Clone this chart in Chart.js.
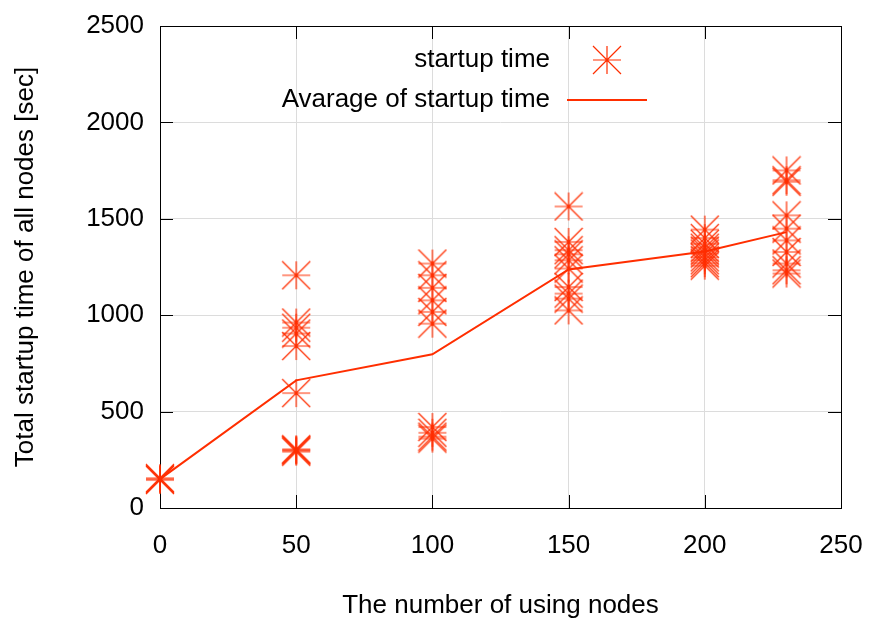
<!DOCTYPE html>
<html>
<head>
<meta charset="utf-8">
<script src="https://cdn.jsdelivr.net/npm/chart.js@4"></script>
<style>
  html, body { margin: 0; padding: 0; background: #fff; }
  #wrap { width: 870px; height: 625px; }
</style>
</head>
<body>
<div id="wrap"><canvas id="startupChart"></canvas></div>
<script>
const nodes0 = [0, 0, 0];
const times0 = [145, 150, 155];
const nodes50 = [50, 50, 50, 50, 50, 50, 50, 50, 50, 50];
const times50 = [1207, 962, 935, 905, 840, 596, 305, 300, 298, 292];
const nodes100 = [100, 100, 100, 100, 100, 100, 100, 100, 100, 100];
const times100 = [1268, 1207, 1142, 1077, 1017, 956, 420, 390, 370, 360];
const nodes150 = [150, 150, 150, 150, 150, 150, 150, 150, 150, 150];
const times150 = [1564, 1380, 1337, 1316, 1285, 1242, 1146, 1112, 1086, 1025];
const nodes200 = [200, 200, 200, 200, 200, 200, 200, 200, 200, 200];
const times200 = [1444, 1400, 1370, 1350, 1335, 1320, 1300, 1285, 1270, 1257];
const nodes230 = [230, 230, 230, 230, 230, 230, 230, 230, 230, 230];
const times230 = [1751, 1700, 1692, 1518, 1449, 1388, 1328, 1268, 1233, 1216];

// average line
const avgNodes = [0, 50, 100, 150, 200, 230];
const avgTimes = [150, 662, 797, 1237, 1330, 1431];

const xTicks = [0, 50, 100, 150, 200, 250];
const yTicks = [0, 500, 1000, 1500, 2000, 2500];

const red = "#ff2e00";
const font = "'Liberation Sans', Arial, Helvetica, sans-serif";

// gnuplot-like star: plus + x reaching the square corners
function makeStar(r) {
    const c = document.createElement("canvas");
    const s = 2 * r + 2;
    c.width = s; c.height = s;
    const g = c.getContext("2d");
    const m = s / 2;
    g.strokeStyle = red;
    g.lineWidth = 1.2;
    g.beginPath();
    g.moveTo(m - r, m); g.lineTo(m + r, m);
    g.moveTo(m, m - r); g.lineTo(m, m + r);
    g.moveTo(m - r, m - r); g.lineTo(m + r, m + r);
    g.moveTo(m - r, m + r); g.lineTo(m + r, m - r);
    g.stroke();
    return c;
}
const star = makeStar(14);

function pairs(xs, ys) {
    return xs.map((x, i) => ({ x: x, y: ys[i] }));
}
const points = [].concat(
    pairs(nodes0, times0), pairs(nodes50, times50), pairs(nodes100, times100),
    pairs(nodes150, times150), pairs(nodes200, times200), pairs(nodes230, times230)
);

// border + inward ticks on all four sides
const framePlugin = {
    id: "frame",
    beforeDatasetsDraw(chart) {
        const { ctx, chartArea: a, scales } = chart;
        ctx.save();
        ctx.strokeStyle = "#000";
        ctx.lineWidth = 1;
        const tl = 13;
        ctx.beginPath();
        xTicks.forEach(v => {
            const px = Math.round(scales.x.getPixelForValue(v)) + 0.5;
            ctx.moveTo(px, a.bottom); ctx.lineTo(px, a.bottom - tl);
            ctx.moveTo(px, a.top); ctx.lineTo(px, a.top + tl);
        });
        yTicks.forEach(v => {
            const py = Math.round(scales.y.getPixelForValue(v)) + 0.5;
            ctx.moveTo(a.left, py); ctx.lineTo(a.left + tl, py);
            ctx.moveTo(a.right, py); ctx.lineTo(a.right - tl, py);
        });
        ctx.stroke();
        ctx.strokeRect(Math.round(a.left) + 0.5, Math.round(a.top) + 0.5,
            Math.round(a.right - a.left), Math.round(a.bottom - a.top));
        ctx.restore();
    },
    afterDraw(chart) {
        // key inside the plot, text right-aligned left of the symbol
        const { ctx } = chart;
        const ds = chart.data.datasets;
        ctx.save();
        ctx.font = "26px " + font;
        ctx.fillStyle = "#000";
        ctx.textAlign = "right";
        ctx.textBaseline = "middle";
        ctx.fillText(ds[0].label, 550, 60);
        ctx.drawImage(star, 607 - star.width / 2, 60 - star.height / 2);
        ctx.fillText(ds[1].label, 550, 100);
        ctx.strokeStyle = red;
        ctx.lineWidth = 2;
        ctx.beginPath();
        ctx.moveTo(567, 100); ctx.lineTo(647, 100);
        ctx.stroke();
        ctx.restore();
    }
};

const ctx = document.getElementById("startupChart").getContext("2d");
new Chart(ctx, {
    type: "scatter",
    data: {
        datasets: [
            {
                label: "startup time",
                data: points,
                pointStyle: star,
                showLine: false,
                clip: false
            },
            {
                label: "Avarage of startup time",
                data: pairs(avgNodes, avgTimes),
                showLine: true,
                borderColor: red,
                borderWidth: 2,
                pointRadius: 0,
                pointHoverRadius: 0,
                fill: false,
                clip: false
            }
        ]
    },
    plugins: [framePlugin],
    options: {
        responsive: true,
        maintainAspectRatio: false,
        animation: false,
        events: [],
        layout: { autoPadding: false, padding: { left: 0, top: 26, right: 29, bottom: 0 } },
        plugins: {
            legend: { display: false },
            tooltip: { enabled: false }
        },
        scales: {
            x: {
                type: "linear",
                min: 0,
                max: 250,
                afterBuildTicks: s => { s.ticks = xTicks.map(v => ({ value: v })); },
                afterFit: s => { s.height = 117; s.paddingLeft = 0; s.paddingRight = 0; },
                grid: { color: "#dcdcdc", lineWidth: 1, drawTicks: false },
                border: { display: false },
                ticks: {
                    color: "#000", padding: 22, maxRotation: 0,
                    font: { family: font, size: 26 },
                    callback: v => String(v)
                },
                title: {
                    display: true,
                    text: "The number of using nodes",
                    color: "#000",
                    font: { family: font, size: 26 },
                    padding: { top: 0, bottom: 4 }
                }
            },
            y: {
                min: 0,
                max: 2500,
                afterBuildTicks: s => { s.ticks = yTicks.map(v => ({ value: v })); },
                afterFit: s => { s.width = 160; s.paddingTop = 0; s.paddingBottom = 0; },
                grid: { color: "#dcdcdc", lineWidth: 1, drawTicks: false },
                border: { display: false },
                ticks: {
                    color: "#000", padding: 16,
                    font: { family: font, size: 26 },
                    callback: v => String(v)
                },
                title: {
                    display: true,
                    text: "Total startup time of all nodes [sec]",
                    color: "#000",
                    font: { family: font, size: 26 },
                    padding: { top: 10, bottom: 0 }
                }
            }
        }
    }
});
</script>
</body>
</html>
